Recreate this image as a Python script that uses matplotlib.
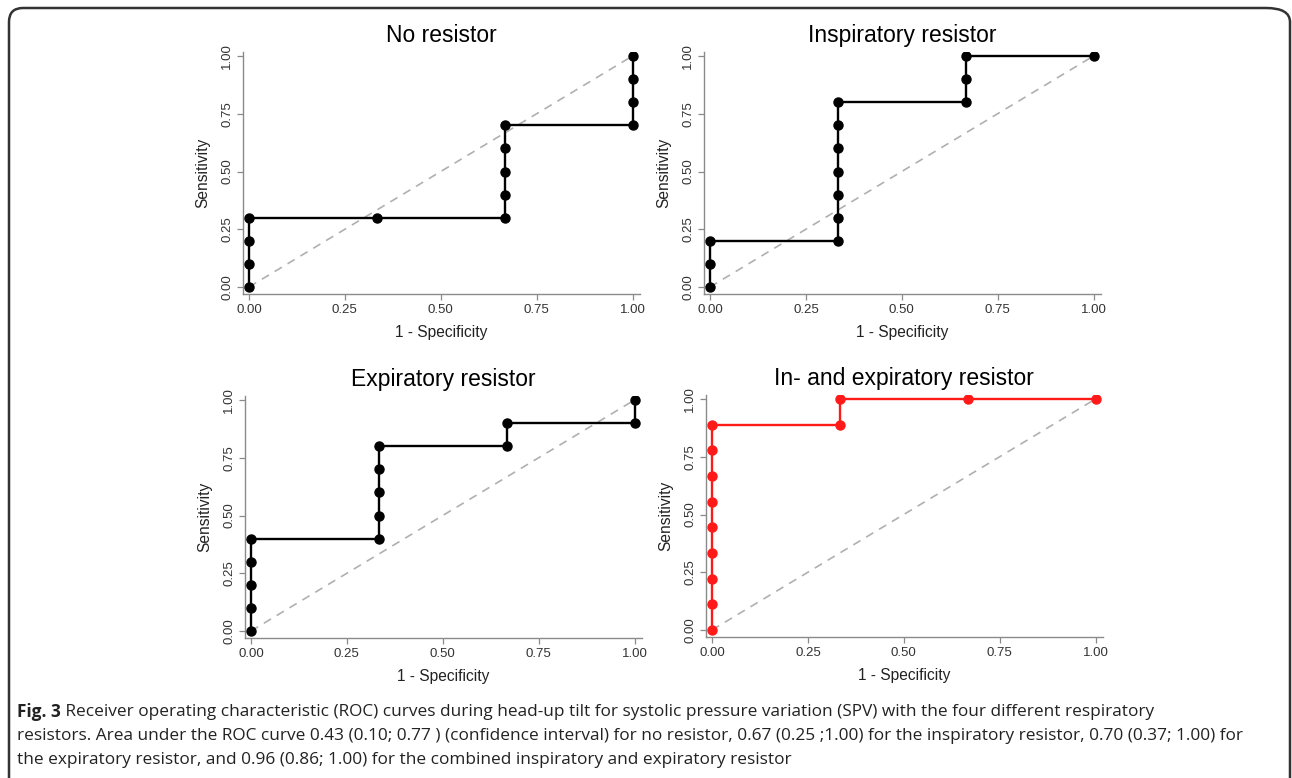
import numpy as np
import matplotlib
matplotlib.use('Agg')
import matplotlib.pyplot as plt
from matplotlib.path import Path
from matplotlib.patches import PathPatch

W, H = 1292, 778
plt.rcParams['font.family'] = ['Liberation Sans', 'DejaVu Sans']

# ROC points (1 - specificity, sensitivity), in plotting order
titles = ["No resistor", "Inspiratory resistor",
          "Expiratory resistor", "In- and expiratory resistor"]

no_fpr = [0, 0, 0, 0, 1/3, 2/3, 2/3, 2/3, 2/3, 2/3, 1, 1, 1, 1]
no_tpr = [0, 0.1, 0.2, 0.3, 0.3, 0.3, 0.4, 0.5, 0.6, 0.7, 0.7, 0.8, 0.9, 1.0]

insp_fpr = [0, 0, 0, 1/3, 1/3, 1/3, 1/3, 1/3, 1/3, 1/3, 2/3, 2/3, 2/3, 1]
insp_tpr = [0, 0.1, 0.2, 0.2, 0.3, 0.4, 0.5, 0.6, 0.7, 0.8, 0.8, 0.9, 1.0, 1.0]

exp_fpr = [0, 0, 0, 0, 0, 1/3, 1/3, 1/3, 1/3, 1/3, 2/3, 2/3, 1, 1]
exp_tpr = [0, 0.1, 0.2, 0.3, 0.4, 0.4, 0.5, 0.6, 0.7, 0.8, 0.8, 0.9, 0.9, 1.0]

both_fpr = [0, 0, 0, 0, 0, 0, 0, 0, 0, 1/3, 1/3, 2/3, 1]
both_tpr = [0, 1/9, 2/9, 3/9, 4/9, 5/9, 6/9, 7/9, 8/9, 8/9, 1.0, 1.0, 1.0]

curves = [(no_fpr, no_tpr), (insp_fpr, insp_tpr),
          (exp_fpr, exp_tpr), (both_fpr, both_tpr)]
colors = ['black', 'black', 'black', '#ff1a1a']

ticks = [0, 0.25, 0.5, 0.75, 1.0]
tick_labels = ["0.00", "0.25", "0.50", "0.75", "1.00"]

# pixel position of data (0, 0) for each panel
origins = [(249, 287), (710, 287), (251, 631), (712, 630)]
PX_X, PX_Y = 383.5, 231.0

caption_bold = "Fig. 3"
caption_lines = [
    " Receiver operating characteristic (ROC) curves during head-up tilt for systolic pressure variation (SPV) with the four different respiratory",
    "resistors. Area under the ROC curve 0.43 (0.10; 0.77 ) (confidence interval) for no resistor, 0.67 (0.25 ;1.00) for the inspiratory resistor, 0.70 (0.37; 1.00) for",
    "the expiratory resistor, and 0.96 (0.86; 1.00) for the combined inspiratory and expiratory resistor",
]

fig = plt.figure(figsize=(W / 100, H / 100), dpi=100)

xlo, xhi = -6 / PX_X, 1 + 7 / PX_X
ylo, yhi = -7 / PX_Y, 1 + 4 / PX_Y

for i, (fpr, tpr) in enumerate(curves):
    x0, y0 = origins[i]
    left = x0 + xlo * PX_X
    right = x0 + xhi * PX_X
    bottom = y0 - ylo * PX_Y
    top = y0 - yhi * PX_Y
    ax = fig.add_axes([left / W, 1 - bottom / H, (right - left) / W, (bottom - top) / H])
    ax.set_xlim(xlo, xhi)
    ax.set_ylim(ylo, yhi)
    ax.plot([0, 1], [0, 1], color='#b0b0b0', lw=1.2, ls=(0, (5, 4)), zorder=1)
    ax.plot(fpr, tpr, color=colors[i], lw=1.7, marker='o', ms=6.5, zorder=3)
    for s in ['top', 'right']:
        ax.spines[s].set_visible(False)
    for s in ['left', 'bottom']:
        ax.spines[s].set_color('#8a8a8a')
        ax.spines[s].set_linewidth(1.0)
    ax.set_xticks(ticks)
    ax.set_xticklabels(tick_labels)
    ax.set_yticks(ticks)
    ax.set_yticklabels(tick_labels, rotation=90, va='center')
    ax.tick_params(colors='#8a8a8a', labelcolor='#333333', length=4, width=0.9,
                   labelsize=9.5, pad=3)
    ax.set_xlabel("1 - Specificity", fontsize=11.2, color='#222222', labelpad=7)
    ax.set_ylabel("Sensitivity", fontsize=11.2, color='#222222', labelpad=8)
    ax.set_title(titles[i], fontsize=16.5, pad=7)

# rounded frame around the figure
r = 14
verts = [(9, H), (9, 8 + r), (9, 8), (9 + r, 8), (W - 12 - r, 8), (W - 2, 8), (W - 2, 8 + r), (W - 2, H)]
codes = [Path.MOVETO, Path.LINETO, Path.CURVE3, Path.CURVE3, Path.LINETO, Path.CURVE3, Path.CURVE3, Path.LINETO]
verts = [(vx / W, 1 - vy / H) for vx, vy in verts]
fig.patches.append(PathPatch(Path(verts, codes), transform=fig.transFigure,
                             fill=False, edgecolor='#333333', lw=1.8))

# caption, one font size so the widest line spans the measured width
cap_family = ['Open Sans', 'DejaVu Sans']
renderer = fig.canvas.get_renderer()
fs = 13
line_y = [712, 736, 760]
x_start, x_end = 17, 1240
tb = fig.text(x_start / W, 1 - line_y[0] / H, caption_bold, fontsize=fs, fontweight='bold',
              family=cap_family, va='center', color='#222222')
t1 = fig.text(0, 1 - line_y[0] / H, caption_lines[0], fontsize=fs, family=cap_family,
              va='center', color='#222222')
t2 = fig.text(x_start / W, 1 - line_y[1] / H, caption_lines[1], fontsize=fs, family=cap_family,
              va='center', color='#222222')
t3 = fig.text(x_start / W, 1 - line_y[2] / H, caption_lines[2], fontsize=fs, family=cap_family,
              va='center', color='#222222')
w_first = tb.get_window_extent(renderer).width + t1.get_window_extent(renderer).width
w_second = t2.get_window_extent(renderer).width
fs = fs * (x_end - x_start) / max(w_first, w_second)
for t in (tb, t1, t2, t3):
    t.set_fontsize(fs)
t1.set_x((x_start + tb.get_window_extent(renderer).width) / W)

plt.savefig('out.png', dpi=100)
